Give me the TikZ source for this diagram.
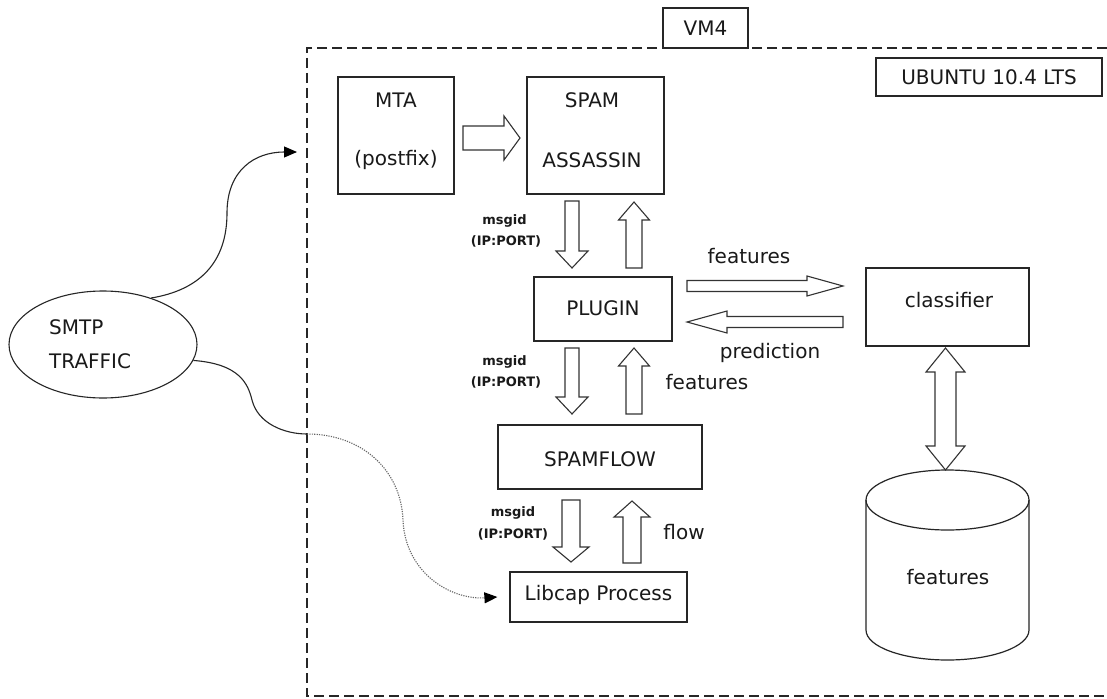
\documentclass[tikz,border=0pt]{standalone}
\usepackage{fontspec}
\setmainfont{DejaVu Sans}
\usetikzlibrary{arrows.meta,shapes.geometric}
\tikzset{
  box/.style={draw=black!85, line width=1.2pt, inner sep=0pt, rectangle},
  lbl/.style={font=\fontsize{20}{24}\selectfont, inner sep=0pt, text=black!90},
  small/.style={font=\bfseries\fontsize{13}{15}\selectfont, inner sep=0pt, text=black!90},
  hollow/.style={draw=black!80, line width=1.1pt, fill=white, line join=miter},
  border/.style={draw=black!85, line width=1.1pt, dash pattern=on 10pt off 5pt},
  curve/.style={draw=black!85, line width=1.1pt},
  dotcurve/.style={draw=black!60, line width=1.1pt, dash pattern=on 1.2pt off 1.2pt},
  tip/.style={-{Triangle[length=13pt,width=11pt,color=black]}}
}
% vertical block arrow: x, y tail, y tip, shaft half width, head half width, head length
\newcommand\vblock[6]{%
  \pgfmathsetmacro\bhb{#3-sign(#3-#2)*#6}%
  \draw[hollow] (#1-#4,#2) -- (#1+#4,#2) -- (#1+#4,\bhb) -- (#1+#5,\bhb) -- (#1,#3) -- (#1-#5,\bhb) -- (#1-#4,\bhb) -- cycle;}
% horizontal block arrow: y, x tail, x tip, shaft half width, head half width, head length
\newcommand\hblock[6]{%
  \pgfmathsetmacro\bhb{#3-sign(#3-#2)*#6}%
  \draw[hollow] (#2,#1-#4) -- (\bhb,#1-#4) -- (\bhb,#1-#5) -- (#3,#1) -- (\bhb,#1+#5) -- (\bhb,#1+#4) -- (#2,#1+#4) -- cycle;}
% double vertical block arrow: x, y top tip, y bottom tip, shaft hw, head hw, head length
\newcommand\dblock[6]{%
  \draw[hollow] (#1,#2) -- (#1+#5,#2+#6) -- (#1+#4,#2+#6) -- (#1+#4,#3-#6) -- (#1+#5,#3-#6) -- (#1,#3) -- (#1-#5,#3-#6) -- (#1-#4,#3-#6) -- (#1-#4,#2+#6) -- (#1-#5,#2+#6) -- cycle;}
\begin{document}
\begin{tikzpicture}[x=1pt,y=-1pt]
\useasboundingbox (0,0) rectangle (1107,698);
\fill[white] (0,0) rectangle (1107,698);

% VM boundary (dashed)
\draw[border] (1107,48) -- (307,48) -- (307,696) -- (1107,696);
\node[box, fill=white, minimum width=85pt, minimum height=40pt] (vm4) at (705.5,28) {};
\node[lbl] (vm4t) at (705.5,28) {VM4};
\node[box, minimum width=226pt, minimum height=38pt] (ubuntu) at (989,77) {};
\node[lbl] (ubuntut) at (989,77) {UBUNTU 10.4 LTS};

% boxes
\node[box, minimum width=116pt, minimum height=117pt] (mta) at (396,135.5) {};
\node[lbl] (mta1) at (396,100) {MTA};
\node[lbl] (mta2) at (396,160) {(postfix)};
\node[box, minimum width=137pt, minimum height=117pt] (spam) at (595.5,135.5) {};
\node[lbl] (spam1) at (592,100) {SPAM};
\node[lbl] (spam2) at (592,160) {ASSASSIN};
\node[box, minimum width=138pt, minimum height=64pt] (plugin) at (603,309) {};
\node[lbl] (plugint) at (603,308) {PLUGIN};
\node[box, minimum width=204pt, minimum height=64pt] (spamflow) at (600,457) {};
\node[lbl] (spamflowt) at (600,459) {SPAMFLOW};
\node[box, minimum width=177pt, minimum height=50pt] (libcap) at (598.5,597) {};
\node[lbl] (libcapt) at (598.5,595) {Libcap Process};
\node[box, minimum width=163pt, minimum height=78pt] (classifier) at (947.5,307) {};
\node[lbl] (classifiert) at (949,300) {classifier};

% database cylinder
\draw[box] (866,500) -- (866,630) arc[start angle=180, end angle=360, x radius=81.5pt, y radius=30pt] -- (1029,500);
\draw[box] (947.5,500) ellipse [x radius=81.5pt, y radius=30pt];
\node[lbl] (db) at (948,577) {features};

% SMTP ellipse
\node[ellipse, draw=black!85, line width=1.1pt, minimum width=188pt, minimum height=107pt, inner sep=0pt] (smtp) at (103,344.5) {};
\node[lbl, anchor=west] (smtp1) at (49,327) {SMTP};
\node[lbl, anchor=west] (smtp2) at (49,361) {TRAFFIC};

% block arrows
\hblock{138}{463}{520}{12}{22}{16}
\vblock{572}{201}{268}{7}{16}{17}
\vblock{634}{268}{202}{8}{15.5}{18}
\hblock{286}{687}{843}{5.5}{10}{36}
\hblock{322}{843}{687}{5.5}{11}{40}
\vblock{572}{348}{414}{7}{16}{17}
\vblock{634}{414}{348}{8}{15.5}{18}
\vblock{571}{500}{562}{9}{18}{15}
\vblock{632}{563}{501}{9}{18}{16}
\dblock{945.5}{348}{470}{10.5}{19.5}{24}

% labels on block arrows
\node[small] (m1a) at (504.5,221) {msgid};
\node[small] (m1b) at (506,241) {(IP:PORT)};
\node[small] (m2a) at (504.5,362) {msgid};
\node[small] (m2b) at (506,382) {(IP:PORT)};
\node[small] (m3a) at (513,513) {msgid};
\node[small] (m3b) at (513,534) {(IP:PORT)};
\node[lbl] (featA) at (749,256) {features};
\node[lbl] (pred) at (770,353) {prediction};
\node[lbl] (featB) at (707,382) {features};
\node[lbl] (flow) at (684,532) {flow};

% SMTP traffic curves
\coordinate (vmin) at (297,152);
\coordinate (cross) at (307,434);
\draw[curve, tip] (smtp.44) .. controls (200,290) and (227,262) .. (227,213)
   .. controls (227,170) and (255,152) .. (vmin);
\draw[curve] (smtp.-10) .. controls (240,364) and (248,384) .. (252,400)
   .. controls (258,424) and (285,434) .. (cross);
\draw[dotcurve, tip] (cross) .. controls (362,434) and (401,470) .. (403,520)
   .. controls (405,572) and (450,600) .. ([xshift=-12pt]libcap.west);
\end{tikzpicture}
\end{document}
